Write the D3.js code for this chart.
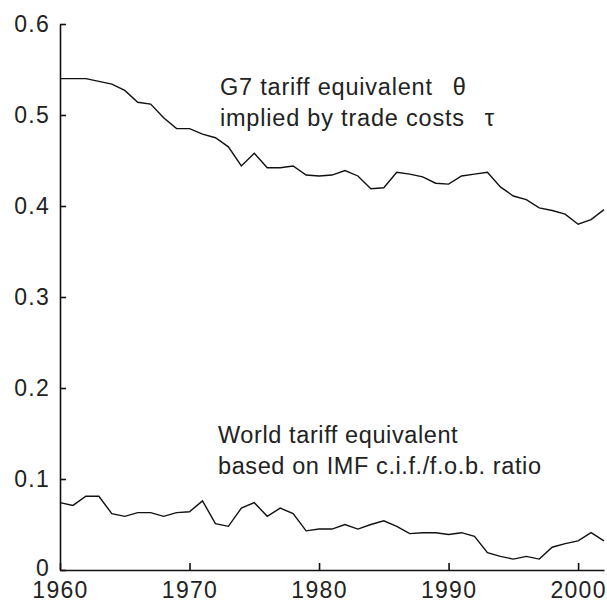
<!DOCTYPE html>
<html>
<head>
<meta charset="utf-8">
<script src="https://cdn.jsdelivr.net/npm/d3@7"></script>
<style>
  body { margin: 0; background: #fff; }
  svg text { font-family: "Liberation Sans", Arial, sans-serif; fill: #222; }
</style>
</head>
<body>
<div id="graph"></div>
<script>
// annual values
var years = d3.range(1960, 2003);

var g7Tariff = [0.540, 0.540, 0.540, 0.537, 0.534, 0.527, 0.514, 0.512, 0.497, 0.485,
                0.485, 0.479, 0.475, 0.465, 0.444, 0.458, 0.442, 0.442, 0.444, 0.434,
                0.433, 0.434, 0.439, 0.433, 0.419, 0.420, 0.437, 0.435, 0.432, 0.425,
                0.424, 0.433, 0.435, 0.437, 0.421, 0.411, 0.407, 0.398, 0.395, 0.391,
                0.380, 0.385, 0.396];

var worldTariff = [0.074, 0.071, 0.081, 0.081, 0.062, 0.059, 0.063, 0.063, 0.059, 0.063,
                   0.064, 0.076, 0.051, 0.048, 0.068, 0.074, 0.059, 0.068, 0.062, 0.043,
                   0.045, 0.045, 0.050, 0.045, 0.050, 0.054, 0.048, 0.040, 0.041, 0.041,
                   0.039, 0.041, 0.037, 0.019, 0.015, 0.012, 0.015, 0.012, 0.025, 0.029,
                   0.032, 0.041, 0.032];

var xTicks = [1960, 1970, 1980, 1990, 2000];
var yTicks = [0, 0.1, 0.2, 0.3, 0.4, 0.5, 0.6];

var g7Label = ["G7 tariff equivalent\u2002\u00a0\u03b8", "implied by trade costs\u2002\u00a0\u03c4"];
var worldLabel = ["World tariff equivalent", "based on IMF c.i.f./f.o.b. ratio"];

var svgWidth = 607;
var svgHeight = 603;
var margin = {top: 24, right: 3, bottom: 33, left: 60};
var chartWidth = svgWidth - margin.left - margin.right;
var chartHeight = svgHeight - margin.top - margin.bottom;

var svg = d3.select("#graph")
  .append("svg")
  .attr("width", svgWidth)
  .attr("height", svgHeight);

var chartGroup = svg.append("g")
  .attr("transform", `translate(${margin.left}, ${margin.top})`);

var xScale = d3.scaleLinear()
  .domain([1960, 2002])
  .range([0, chartWidth]);

var yScale = d3.scaleLinear()
  .domain([0, 0.6])
  .range([chartHeight, 0]);

// inward ticks, matlab style
var xAxis = d3.axisBottom(xScale)
  .tickValues(xTicks)
  .tickFormat(d => String(d))
  .tickSizeInner(-7)
  .tickSizeOuter(0)
  .tickPadding(12);

var yAxis = d3.axisLeft(yScale)
  .tickValues(yTicks)
  .tickFormat(d => String(d))
  .tickSizeInner(-6)
  .tickSizeOuter(0)
  .tickPadding(10);

var gx = chartGroup.append("g")
  .attr("transform", `translate(0, ${chartHeight})`)
  .call(xAxis);

var gy = chartGroup.append("g")
  .call(yAxis);

[gx, gy].forEach(function(g) {
  g.select(".domain").attr("stroke", "#111").attr("stroke-width", 1.6);
  g.selectAll(".tick line").attr("stroke", "#111").attr("stroke-width", 1.6);
  g.selectAll(".tick text")
    .attr("fill", "#333")
    .style("font-size", "23px")
    .style("letter-spacing", "1.3px")
    .style("font-family", "'Liberation Sans', Arial, sans-serif");
});
gx.selectAll(".tick text").attr("dy", "0.71em");
// the zero label sits a touch higher so it clears 1960
gy.selectAll(".tick text").filter(d => d === 0).attr("dy", "0.22em");

var line = d3.line()
  .x((d, i) => xScale(years[i]))
  .y(d => yScale(d));

[g7Tariff, worldTariff].forEach(function(series) {
  chartGroup.append("path")
    .datum(series)
    .attr("d", line)
    .attr("fill", "none")
    .attr("stroke", "#111")
    .attr("stroke-width", 1.4);
});

function addLabel(lines, x, y, spacing) {
  lines.forEach(function(t, i) {
    chartGroup.append("text")
      .attr("x", xScale(x))
      .attr("y", yScale(y) + i * 31)
      .attr("fill", "#333")
      .style("font-size", "23.5px")
      .style("letter-spacing", spacing)
      .text(t);
  });
}

addLabel(g7Label, 1972.35, (570 - 95) / 910, "0.8px");
addLabel(worldLabel, 1972.2, (570 - 443) / 910, "0.6px");
</script>
</body>
</html>
